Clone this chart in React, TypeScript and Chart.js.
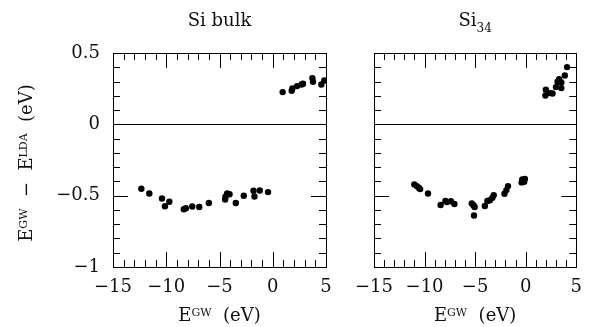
import React, { useEffect, useRef } from "react";
import { Chart, registerables } from "chart.js";

Chart.register(...registerables);

// ---- data ----
const bulkE = [-12.34, -11.59, -10.4, -10.12, -9.71, -8.35, -8.16, -7.56, -6.9, -6.0, -4.47, -4.44, -4.28, -4.06, -3.47, -2.72, -1.81, -1.72, -1.22, -0.44,
  0.93, 1.78, 1.84, 2.28, 2.71, 2.84, 3.72, 3.78, 4.56, 4.84];
const bulkD = [-0.452, -0.485, -0.52, -0.574, -0.543, -0.595, -0.588, -0.576, -0.579, -0.551, -0.527, -0.508, -0.485, -0.49, -0.551, -0.501, -0.466, -0.506, -0.464, -0.475,
  0.226, 0.235, 0.251, 0.268, 0.279, 0.284, 0.324, 0.298, 0.279, 0.307];

const clusterE = [-11.01, -10.76, -10.57, -10.44, -9.66, -8.41, -7.94, -7.8, -7.4, -7.05, -5.33, -5.17, -5.05, -5.11, -4.04, -3.79, -3.54, -3.29, -3.16, -2.1, -1.91, -1.75, -0.4, -0.34, -0.08, -0.15,
  1.95, 1.99, 2.42, 2.65, 2.99, 3.15, 3.31, 3.52, 3.52, 3.87, 4.09];
const clusterD = [-0.421, -0.433, -0.445, -0.454, -0.485, -0.565, -0.537, -0.545, -0.539, -0.558, -0.555, -0.567, -0.579, -0.639, -0.572, -0.537, -0.532, -0.515, -0.496, -0.487, -0.461, -0.433, -0.407, -0.386, -0.382, -0.403,
  0.202, 0.242, 0.219, 0.216, 0.261, 0.298, 0.317, 0.293, 0.254, 0.342, 0.401];

const xMin = -15, xMax = 5, xStep = 5;
const yMin = -1, yMax = 0.5, yStep = 0.5;
const panelTitles = [
  [{ t: "Si bulk", size: 18, dy: 0 }],
  [{ t: "Si", size: 18, dy: 0 }, { t: "34", size: 12, dy: 6 }],
];

const FONT = "'DejaVu Serif', serif";
const INK = "#111";

type Part = { t: string; size: number; dy: number };

function drawRich(ctx: CanvasRenderingContext2D, parts: Part[], cx: number, cy: number) {
  let total = 0;
  const widths = parts.map((p) => {
    ctx.font = `${p.size}px ${FONT}`;
    const w = ctx.measureText(p.t).width;
    total += w;
    return w;
  });
  let x = cx - total / 2;
  ctx.textBaseline = "alphabetic";
  ctx.textAlign = "left";
  parts.forEach((p, i) => {
    ctx.font = `${p.size}px ${FONT}`;
    ctx.fillText(p.t, x, cy + p.dy);
    x += widths[i];
  });
}

const fmt = (v: number) => (v < 0 ? "\u2212" + Math.abs(v) : String(v));

function makeFramePlugin(panel: number) {
  return {
    id: "frame" + panel,
    afterDraw(chart: any) {
      const { ctx, chartArea: a, scales } = chart;
      const x = scales.x, y = scales.y;
      ctx.save();
      ctx.strokeStyle = "#000";
      ctx.lineWidth = 1;
      ctx.beginPath();
      const y0 = Math.round(y.getPixelForValue(0)) + 0.5;
      ctx.moveTo(a.left, y0);
      ctx.lineTo(a.right, y0);
      for (let v = xMin; v <= xMax; v += 1) {
        const px = Math.round(x.getPixelForValue(v)) + 0.5;
        const len = Math.abs(v % 5) < 1e-9 ? 15 : 7;
        ctx.moveTo(px, a.top);
        ctx.lineTo(px, a.top + len);
        ctx.moveTo(px, a.bottom);
        ctx.lineTo(px, a.bottom - len);
      }
      for (let k = -10; k <= 5; k += 1) {
        const py = Math.round(y.getPixelForValue(k / 10)) + 0.5;
        const len = Math.abs(k % 5) < 1e-9 ? 15 : 7;
        ctx.moveTo(a.left, py);
        ctx.lineTo(a.left + len, py);
        ctx.moveTo(a.right, py);
        ctx.lineTo(a.right - len, py);
      }
      ctx.stroke();
      ctx.strokeRect(Math.round(a.left) + 0.5, Math.round(a.top) + 0.5, Math.round(a.right - a.left), Math.round(a.bottom - a.top));

      ctx.fillStyle = INK;
      const cx = (a.left + a.right) / 2;
      drawRich(ctx, panelTitles[panel] as Part[], cx, 26);
      drawRich(ctx, [
        { t: "E", size: 18, dy: 0 },
        { t: "GW", size: 11, dy: -5 },
        { t: "  (eV)", size: 18, dy: 0 },
      ], cx, 321);
      if (panel === 0) {
        ctx.translate(32, 163);
        ctx.rotate(-Math.PI / 2);
        drawRich(ctx, [
          { t: "E", size: 18, dy: 0 },
          { t: "GW", size: 11, dy: -5 },
          { t: "  \u2212  E", size: 18, dy: 0 },
          { t: "LDA", size: 11, dy: -5 },
          { t: "  (eV)", size: 18, dy: 0 },
        ], 0, 0);
      }
      ctx.restore();
    },
  };
}

function makeConfig(panel: number, xs: number[], ys: number[]): any {
  const yWidth = panel === 0 ? 113 : 23;
  return {
    type: "scatter",
    data: {
      datasets: [
        {
          data: xs.map((v, i) => ({ x: v, y: ys[i] })),
          backgroundColor: "#000",
          borderColor: "#000",
          pointRadius: 3.2,
          pointHoverRadius: 3.2,
          borderWidth: 0,
        },
      ],
    },
    options: {
      responsive: false,
      animation: false,
      events: [],
      layout: { padding: { top: 53, right: panel === 0 ? 19 : 11, left: 0, bottom: 0 } },
      plugins: { legend: { display: false }, tooltip: { enabled: false } },
      scales: {
        x: {
          type: "linear",
          min: xMin,
          max: xMax,
          grid: { display: false, drawTicks: false },
          border: { display: false },
          afterFit: (s: any) => { s.height = 60; },
          ticks: {
            stepSize: xStep,
            autoSkip: false,
            maxRotation: 0,
            padding: 10,
            color: INK,
            font: { family: FONT, size: 18 },
            callback: (v: number) => fmt(v),
          },
        },
        y: {
          type: "linear",
          min: yMin,
          max: yMax,
          grid: { display: false, drawTicks: false },
          border: { display: false },
          afterFit: (s: any) => { s.width = yWidth; },
          ticks: {
            display: panel === 0,
            stepSize: yStep,
            autoSkip: false,
            padding: 13,
            color: INK,
            font: { family: FONT, size: 18 },
            callback: (v: number) => fmt(v),
          },
        },
      },
    },
    plugins: [makeFramePlugin(panel)],
  };
}

export default function App() {
  const leftRef = useRef<HTMLCanvasElement>(null);
  const rightRef = useRef<HTMLCanvasElement>(null);
  useEffect(() => {
    const c1 = new Chart(leftRef.current as HTMLCanvasElement, makeConfig(0, bulkE, bulkD));
    const c2 = new Chart(rightRef.current as HTMLCanvasElement, makeConfig(1, clusterE, clusterD));
    return () => {
      c1.destroy();
      c2.destroy();
    };
  }, []);
  return (
    <div style={{ position: "fixed", left: 0, top: 0, width: 592, height: 327, background: "#fff" }}>
      <canvas ref={leftRef} width={345} height={327} style={{ position: "absolute", left: 0, top: 0 }} />
      <canvas ref={rightRef} width={247} height={327} style={{ position: "absolute", left: 345, top: 0 }} />
    </div>
  );
}
